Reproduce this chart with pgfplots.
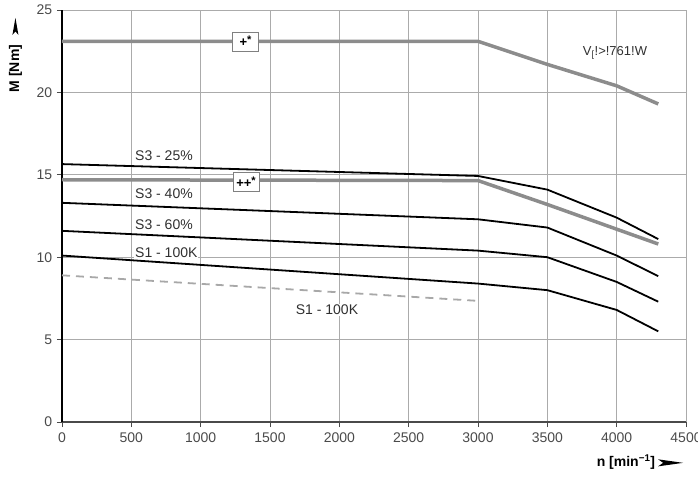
\documentclass[border=0pt]{standalone}
\usepackage{fontspec}
\setmainfont{Liberation Sans}
\usepackage{pgfplots}
\pgfplotsset{compat=1.18}
\definecolor{gridc}{HTML}{ABABAB}
\definecolor{thickgray}{HTML}{8C8C8C}
\definecolor{dashgray}{HTML}{A8A8A8}
\definecolor{tickc}{HTML}{4A4A4A}
\definecolor{labc}{HTML}{303030}
\newcommand{\rarrow}[2]{\tikz[baseline=-0.5ex]\fill (0,0)--(-#1,#2)--(-0.8*#1,0)--(-#1,-#2)--cycle;}
\begin{document}
\fontsize{14}{16}\selectfont
\begin{tikzpicture}
\useasboundingbox (-62pt,-61pt) rectangle (636pt,422pt);
\begin{axis}[
  at={(0,0)}, anchor=south west,
  scale only axis, width=624pt, height=412pt,
  xmin=0, xmax=4500, ymin=0, ymax=25,
  clip mode=individual,
  axis x line*=bottom, axis y line*=left,
  x axis line style={tickc, line width=1.2pt},
  y axis line style={black, line width=1.2pt},
  grid=major, grid style={gridc, line width=0.8pt},
  xtick={0,500,...,4500}, ytick={0,5,...,25},
  tick align=outside, major tick length=5pt,
  tick style={tickc, line width=0.8pt},
  ticklabel style={font=\fontsize{14}{16}\selectfont, text=tickc},
  /pgf/number format/assume math mode=true,
  /pgf/number format/set thousands separator={},
  x tick label style={yshift=-1pt},
]
% dashed S1 - 100K
\addplot[dashgray, line width=1.8pt, dash pattern=on 8pt off 6pt] coordinates {(0,8.9)(3000,7.35)};
% gray thick curves
\addplot[thickgray, line width=3.5pt] coordinates {(0,23.1)(3000,23.1)(3500,21.7)(4000,20.4)(4300,19.3)};
\addplot[thickgray, line width=3.5pt] coordinates {(0,14.7)(3000,14.65)(3500,13.2)(4000,11.7)(4300,10.8)};
% black curves
\addplot[black, line width=1.8pt] coordinates {(0,15.65)(3000,14.93)(3500,14.1)(4000,12.4)(4300,11.1)};
\addplot[black, line width=1.8pt] coordinates {(0,13.3)(3000,12.3)(3500,11.8)(4000,10.1)(4300,8.85)};
\addplot[black, line width=1.8pt] coordinates {(0,11.6)(3000,10.4)(3500,10.0)(4000,8.5)(4300,7.3)};
\addplot[black, line width=1.8pt] coordinates {(0,10.1)(3000,8.4)(3500,8.0)(4000,6.8)(4300,5.5)};
% labels
\node[anchor=west, fill=white, inner sep=1pt, text=labc] at (axis cs:519,16.16) {S3 - 25\%};
\node[anchor=west, fill=white, inner sep=1pt, text=labc] at (axis cs:519,13.83) {S3 - 40\%};
\node[anchor=west, fill=white, inner sep=1pt, text=labc] at (axis cs:519,11.95) {S3 - 60\%};
\node[anchor=west, fill=white, inner sep=1pt, text=labc] at (axis cs:519,10.25) {S1 - 100K};
\node[fill=white, inner sep=1pt, text=labc] at (axis cs:1911,6.8) {S1 - 100K};
\node[draw=gray, fill=white, line width=0.6pt, minimum width=26pt, minimum height=19pt, inner sep=1pt, font=\fontsize{13}{14}\selectfont\bfseries] at (axis cs:1323,23.1) {+\raisebox{3pt}{\fontsize{11}{12}\selectfont *}};
\node[draw=gray, fill=white, line width=0.6pt, minimum width=26pt, minimum height=19pt, inner sep=1pt, font=\fontsize{13}{14}\selectfont\bfseries] at (axis cs:1327,14.55) {++\raisebox{3pt}{\fontsize{11}{12}\selectfont *}};
\node[text=labc, font=\fontsize{13}{15}\selectfont] at (axis cs:3988,22.4) {V\textsubscript{[}!>!761!W};
% axis labels
\node[anchor=east, font=\fontsize{14}{16}\selectfont\bfseries] at ([xshift=2pt,yshift=-40pt]rel axis cs:1,0) {n [min\textsuperscript{−1}]\hspace{3pt}\rarrow{25pt}{3.5pt}};
\node[anchor=east, rotate=90, font=\fontsize{14}{16}\selectfont\bfseries] at ([xshift=-46.5pt,yshift=-3pt]rel axis cs:0,1) {M [Nm]\hspace{10pt}\rarrow{17pt}{3pt}};
\end{axis}
\end{tikzpicture}
\end{document}
